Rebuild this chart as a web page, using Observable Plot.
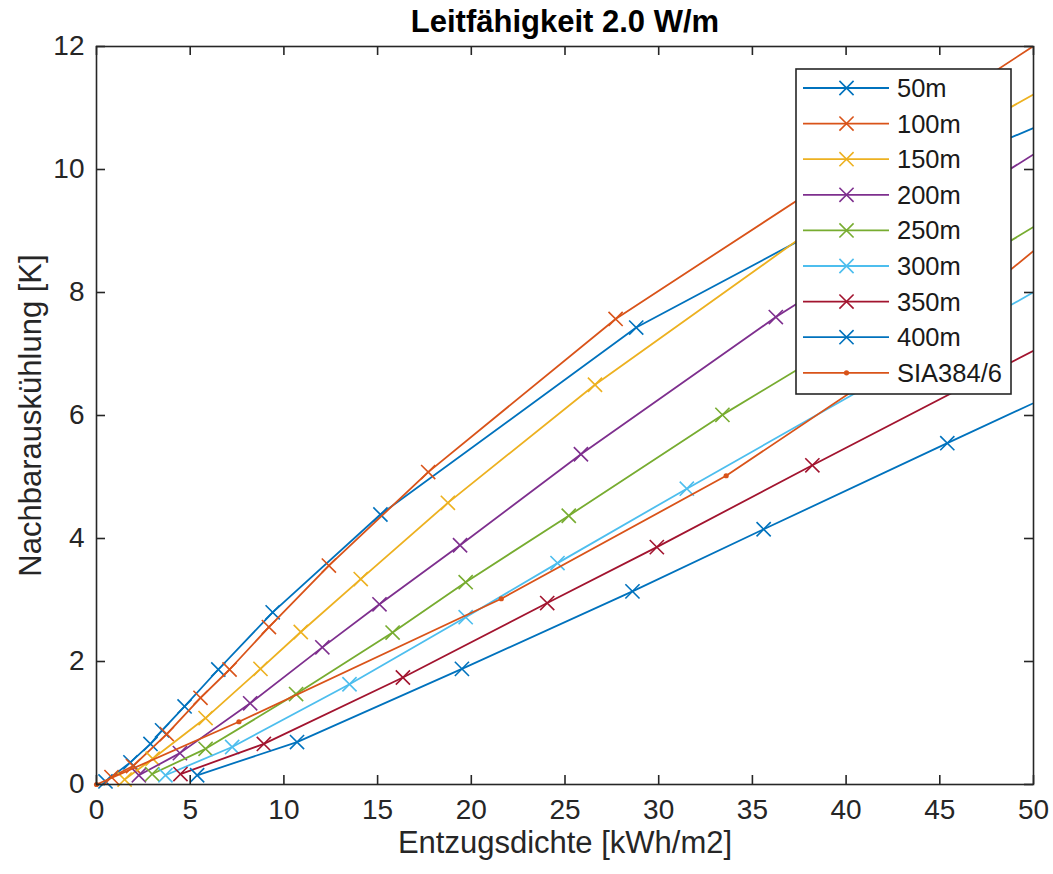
<!DOCTYPE html>
<html>
<head>
<meta charset="utf-8">
<script src="https://cdn.jsdelivr.net/npm/d3@7"></script>
<script src="https://cdn.jsdelivr.net/npm/@observablehq/plot@0.6"></script>
<style>
  body { margin: 0; background: #fff; }
  #wrap { position: relative; width: 1053px; height: 874px; font-family: "Liberation Sans", Arial, Helvetica, sans-serif; }
  #legend { position: absolute; left: 795px; top: 68px; }
</style>
</head>
<body>
<div id="wrap"></div>
<script>
// ---- data ----
const titleText = "Leitfähigkeit 2.0 W/m";
const xLabel = "Entzugsdichte [kWh/m2]";
const yLabel = "Nachbarauskühlung [K]";
const xTicks = [0, 5, 10, 15, 20, 25, 30, 35, 40, 45, 50];
const yTicks = [0, 2, 4, 6, 8, 10, 12];

const seriesNames = ["50m", "100m", "150m", "200m", "250m", "300m", "350m", "400m", "SIA384/6"];
const seriesColors = ["#0072BD", "#D95319", "#EDB120", "#7E2F8E", "#77AC30", "#4DBEEE", "#A2142F", "#0072BD", "#D95319"];
const seriesMarkers = ["times", "times", "times", "times", "times", "times", "times", "times", "dot"];

const x50 = [0.48, 1.81, 2.88, 3.5, 4.7, 6.5, 9.4, 15.15, 28.8, 44, 56];
const y50 = [0.05, 0.36, 0.66, 0.88, 1.27, 1.87, 2.80, 4.39, 7.43, 9.9, 11.45];
const x100 = [0.8, 1.95, 3.75, 5.55, 7.1, 9.2, 12.4, 17.7, 27.7, 56];
const y100 = [0.12, 0.30, 0.82, 1.41, 1.87, 2.56, 3.56, 5.08, 7.57, 13.2];
const x150 = [1.5, 3.0, 5.82, 8.75, 10.9, 14.1, 18.75, 26.6, 42, 56];
const y150 = [0.08, 0.42, 1.08, 1.88, 2.48, 3.34, 4.58, 6.50, 9.85, 12.25];
const x200 = [2.26, 4.45, 8.2, 12.05, 15.1, 19.4, 25.85, 36.25, 56];
const y200 = [0.15, 0.51, 1.32, 2.23, 2.93, 3.89, 5.37, 7.60, 11.4];
const x250 = [2.97, 5.82, 10.65, 15.8, 19.7, 25.2, 33.4, 56];
const y250 = [0.17, 0.58, 1.47, 2.47, 3.29, 4.37, 6.01, 10.17];
const x300 = [3.68, 7.24, 13.5, 19.7, 24.6, 31.5, 56];
const y300 = [0.15, 0.61, 1.63, 2.72, 3.60, 4.81, 9.04];
const x350 = [4.48, 8.93, 16.35, 24.05, 29.9, 38.2, 56];
const y350 = [0.17, 0.66, 1.74, 2.95, 3.86, 5.19, 8.0];
const x400 = [5.37, 10.7, 19.5, 28.6, 35.6, 45.4, 56];
const y400 = [0.15, 0.69, 1.88, 3.14, 4.15, 5.55, 7.05];
const xSIA = [0, 7.6, 21.6, 33.6, 43.3, 51.3];
const ySIA = [0, 1.02, 3.02, 5.02, 7.0, 9.0];

const seriesX = [x50, x100, x150, x200, x250, x300, x350, x400, xSIA];
const seriesY = [y50, y100, y150, y200, y250, y300, y350, y400, ySIA];

// ---- build chart ----
const W = 1053, H = 874;
const mL = 96, mR = 20, mT = 46, mB = 90;
const plotW = W - mL - mR, plotH = H - mT - mB;
const axisColor = "#262626";
const tickLen = 9;

const marks = [];
seriesNames.forEach((name, i) => {
  const pts = seriesX[i].map((x, j) => ({series: name, x, y: seriesY[i][j]}));
  marks.push(Plot.line(pts, {x: "x", y: "y", stroke: seriesColors[i], strokeWidth: 1.8, clip: true}));
  const vis = pts.filter(d => d.x <= 50 && d.y <= 12);
  if (seriesMarkers[i] === "times") {
    marks.push(Plot.dot(vis, {x: "x", y: "y", symbol: "times", r: 6.5, stroke: seriesColors[i], strokeWidth: 1.6}));
  } else {
    marks.push(Plot.dot(vis, {x: "x", y: "y", r: 2.6, fill: seriesColors[i], stroke: null}));
  }
});

const chart = Plot.plot({
  width: W, height: H,
  marginLeft: mL, marginRight: mR, marginTop: mT, marginBottom: mB,
  style: {fontFamily: '"Liberation Sans", Arial, Helvetica, sans-serif', color: axisColor, background: "#fff", overflow: "visible"},
  x: {domain: [0, 50]},
  y: {domain: [0, 12]},
  marks: [
    ...marks,
    Plot.frame({stroke: axisColor, strokeWidth: 1.6}),
    Plot.tickX(xTicks, {x: d => d, insetTop: plotH - tickLen, stroke: axisColor, strokeWidth: 1.6}),
    Plot.tickX(xTicks, {x: d => d, insetBottom: plotH - tickLen, stroke: axisColor, strokeWidth: 1.6}),
    Plot.tickY(yTicks, {y: d => d, insetRight: plotW - tickLen, stroke: axisColor, strokeWidth: 1.6}),
    Plot.tickY(yTicks, {y: d => d, insetLeft: plotW - tickLen, stroke: axisColor, strokeWidth: 1.6}),
    Plot.axisX(xTicks, {tickSize: 0, tickPadding: 15, fontSize: 28, label: null, fill: axisColor, tickFormat: d3.format("d")}),
    Plot.axisY(yTicks, {tickSize: 0, tickPadding: 12, fontSize: 28, label: null, fill: axisColor, tickFormat: d3.format("d")}),
    Plot.text([xLabel], {text: d => d, frameAnchor: "bottom", lineAnchor: "middle", textAnchor: "middle", dy: 59, fontSize: 31, fill: axisColor}),
    Plot.text([yLabel], {text: d => d, frameAnchor: "left", lineAnchor: "middle", textAnchor: "middle", dx: -65, rotate: -90, fontSize: 31, fill: axisColor}),
    Plot.text([titleText], {text: d => d, frameAnchor: "top", lineAnchor: "middle", textAnchor: "middle", dy: -24, fontSize: 31, fontWeight: "bold", fill: "#000"})
  ]
});
document.getElementById("wrap").appendChild(chart);

// ---- legend (overlay box like MATLAB) ----
const legW = 215, legH = 325, rowH = 35.6, row0 = 20;
const leg = d3.select("#wrap").append("svg")
  .attr("id", "legend").attr("width", legW + 2).attr("height", legH + 2);
leg.append("rect").attr("x", 1).attr("y", 1).attr("width", legW).attr("height", legH)
  .attr("fill", "#fff").attr("stroke", axisColor).attr("stroke-width", 1.6);
seriesNames.forEach((name, i) => {
  const g = leg.append("g").attr("transform", `translate(0,${row0 + i * rowH})`);
  g.append("line").attr("x1", 8).attr("x2", 94).attr("y1", 0).attr("y2", 0)
    .attr("stroke", seriesColors[i]).attr("stroke-width", 1.8);
  if (seriesMarkers[i] === "times") {
    g.append("path").attr("transform", "translate(51.5,0)")
      .attr("d", d3.symbol(d3.symbolTimes, Math.PI * 6.5 * 6.5)())
      .attr("fill", "none").attr("stroke", seriesColors[i]).attr("stroke-width", 1.6);
  } else {
    g.append("circle").attr("cx", 51.5).attr("cy", 0).attr("r", 2.6).attr("fill", seriesColors[i]);
  }
  g.append("text").attr("x", 102).attr("y", 0).attr("dy", "0.35em")
    .attr("font-size", 25.5).attr("fill", "#1a1a1a")
    .attr("font-family", '"Liberation Sans", Arial, Helvetica, sans-serif')
    .text(name);
});
</script>
</body>
</html>
